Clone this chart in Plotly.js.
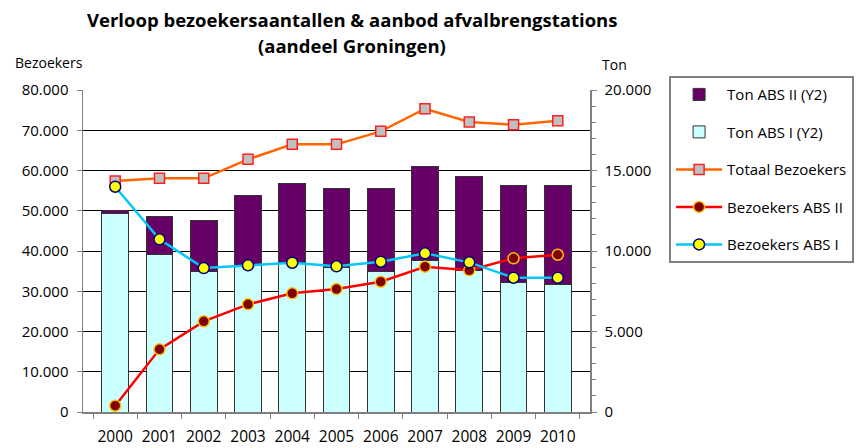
<!DOCTYPE html>
<html>
<head>
<meta charset="utf-8">
<script src="https://cdn.plot.ly/plotly-3.0.1.min.js"></script>
<style>html,body{margin:0;padding:0;background:#fff;}#chart{width:856px;height:448px;}</style>
</head>
<body>
<div id="chart"></div>
<script>
const years = ['2000','2001','2002','2003','2004','2005','2006','2007','2008','2009','2010'];
const tonAbsI  = [12300, 9810, 8710, 9070, 9240, 8950, 8710, 9400, 8820, 8060, 7890];
const tonAbsII = [190, 2340, 3200, 4350, 4980, 4940, 5180, 5820, 5820, 6000, 6170];
const totaalBezoekers = [57400, 58050, 58050, 62770, 66500, 66500, 69730, 75340, 72040, 71370, 72360];
const bezoekersAbsII = [1560, 15570, 22530, 26750, 29480, 30550, 32370, 36100, 35200, 38180, 39070];
const bezoekersAbsI  = [55970, 42900, 35770, 36440, 37090, 36190, 37340, 39420, 37180, 33360, 33360];

const FONT = '"Open Sans", "Noto Sans", "Liberation Sans", sans-serif';

const data = [
  {type:'bar', name:'Ton ABS I (Y2)', x:years, y:tonAbsI, yaxis:'y',
   marker:{color:'#CCFFFF', line:{color:'#333333', width:1}},
   legendgroup:'a', legendrank:2},
  {type:'bar', name:'Ton ABS II (Y2)', x:years, y:tonAbsII, yaxis:'y',
   marker:{color:'#660066', line:{color:'#333333', width:1}},
   legendgroup:'b', legendrank:1},
  {type:'scatter', mode:'lines+markers', name:'Totaal Bezoekers', x:years, y:totaalBezoekers, yaxis:'y2',
   line:{color:'#FF6600', width:2.5},
   marker:{symbol:'square', size:10, color:'#C0C0C0', line:{color:'#FF2020', width:1.5}},
   legendgroup:'c', legendrank:3},
  {type:'scatter', mode:'lines+markers', name:'Bezoekers ABS II', x:years, y:bezoekersAbsII, yaxis:'y2',
   line:{color:'#FF0000', width:2.5},
   marker:{symbol:'circle', size:11, color:'#800000', line:{color:'#FFC000', width:1.5}},
   legendgroup:'d', legendrank:4},
  {type:'scatter', mode:'lines+markers', name:'Bezoekers ABS I', x:years, y:bezoekersAbsI, yaxis:'y2',
   line:{color:'#00C8F8', width:2.5},
   marker:{symbol:'circle', size:11, color:'#FFFF00', line:{color:'#000080', width:1.5}},
   legendgroup:'e', legendrank:5}
];

const layout = {
  width:856, height:448,
  margin:{l:83, r:266, t:90, b:36, autoexpand:false},
  paper_bgcolor:'#ffffff', plot_bgcolor:'#ffffff',
  separators:',.',
  font:{family:FONT, size:15, color:'#000'},
  barmode:'stack', bargap:0.4,
  showlegend:true,
  xaxis:{type:'category', tickson:'boundaries', ticks:'outside', ticklen:5, tickcolor:'#808080',
         tickangle:0, ticklabelstandoff:10, showline:true, linecolor:'#808080', linewidth:1.5, showgrid:false,
         tickfont:{family:FONT, size:15.5, color:'#000'}, fixedrange:true},
  yaxis:{side:'right', range:[0,20000], tickmode:'linear', tick0:0, dtick:5000,
         tickformat:',d', ticks:'outside', ticklen:5, tickcolor:'#808080', ticklabelstandoff:5,
         minor:{dtick:1000, ticks:'outside', ticklen:4, tickcolor:'#808080', showgrid:false},
         showline:true, linecolor:'#808080', linewidth:1.5, showgrid:false, zeroline:false,
         tickfont:{family:FONT, size:15, color:'#000'}, fixedrange:true},
  yaxis2:{overlaying:'y', side:'left', anchor:'x', range:[0,80000], tickmode:'linear', tick0:0, dtick:10000,
          tickformat:',d', ticks:'outside', ticklen:5, tickcolor:'#808080', ticklabelstandoff:5,
          showline:true, linecolor:'#808080', linewidth:1.5,
          showgrid:true, gridcolor:'#000000', gridwidth:1, zeroline:false,
          tickfont:{family:FONT, size:15, color:'#000'}, fixedrange:true},
  legend:{x:1.156, xanchor:'left', y:1.043, yanchor:'top', traceorder:'grouped', tracegroupgap:15,
          bgcolor:'#ffffff', bordercolor:'#808080', borderwidth:2, itemwidth:46,
          font:{family:FONT, size:15, color:'#000'}},
  annotations:[
    {text:'<b>Verloop bezoekersaantallen & aanbod afvalbrengstations</b>', xref:'paper', yref:'paper',
     x:0.5306, y:(412-20)/322, xanchor:'center', yanchor:'middle', showarrow:false,
     font:{family:FONT, size:18.5, color:'#000'}},
    {text:'<b>(aandeel Groningen)</b>', xref:'paper', yref:'paper',
     x:0.5306, y:(412-46)/322, xanchor:'center', yanchor:'middle', showarrow:false,
     font:{family:FONT, size:18.5, color:'#000'}},
    {text:'Bezoekers', xref:'paper', yref:'paper', x:(13-83)/507, y:(412-62)/322,
     xanchor:'left', yanchor:'middle', showarrow:false, font:{family:FONT, size:14, color:'#000'}},
    {text:'Ton', xref:'paper', yref:'paper', x:(600-83)/507, y:(412-65)/322,
     xanchor:'left', yanchor:'middle', showarrow:false, font:{family:FONT, size:14, color:'#000'}}
  ]
};

Plotly.newPlot('chart', data, layout, {displayModeBar:false, staticPlot:true});
</script>
</body>
</html>
